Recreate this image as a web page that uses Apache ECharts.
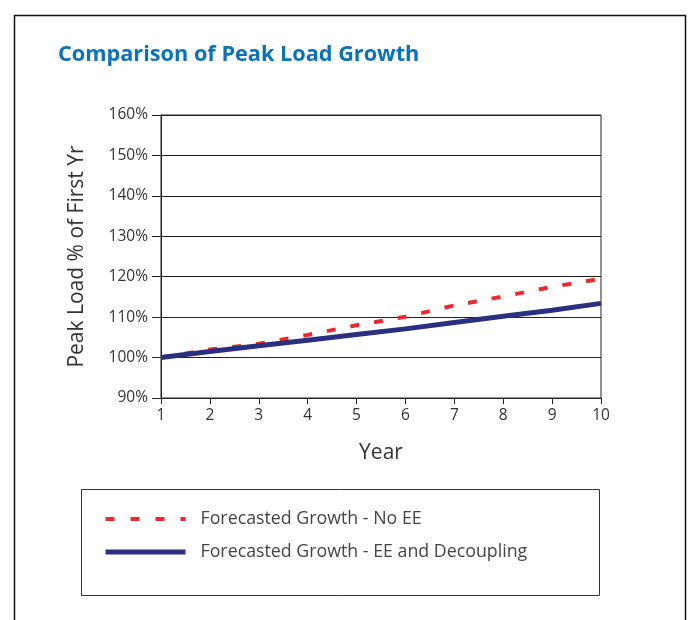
<!DOCTYPE html>
<html><head><meta charset="utf-8">
<script src="https://cdn.jsdelivr.net/npm/echarts@6/dist/echarts.min.js"></script>
<style>html,body{margin:0;padding:0;background:#fff}#c{width:688px;height:620px}</style>
</head><body><div id="c"></div>
<script>
const years = [1, 2, 3, 4, 5, 6, 7, 8, 9, 10];
const noEE = [100, 102, 103.4, 105.6, 108, 110.1, 112.9, 115.1, 117.5, 119.5];
const eeDecoupling = [100, 101.5, 102.9, 104.3, 105.7, 107.1, 108.7, 110.2, 111.7, 113.4];
const seriesNames = ['Forecasted Growth - No EE', 'Forecasted Growth - EE and Decoupling'];
const titleText = 'Comparison of Peak Load Growth';
const yName = 'Peak Load % of First Yr';
const xName = 'Year';

const FONT = '"Open Sans", "Noto Sans", sans-serif';
const RED = '#ec2a2e', BLUE = '#2b2f80';
const chart = echarts.init(document.getElementById('c'), null, {renderer: 'canvas'});
chart.setOption({
  animation: false,
  backgroundColor: '#fff',
  title: {
    text: titleText, left: 53, top: 39,
    textStyle: {color: '#0a72b8', fontSize: 21.7, fontWeight: 'bold', fontFamily: FONT}
  },
  graphic: [
    {type: 'rect', shape: {x: 14.5, y: 15.5, width: 671, height: 640}, style: {fill: null, stroke: '#111', lineWidth: 1.5}, silent: true},
    {type: 'rect', shape: {x: 81.5, y: 489.5, width: 518, height: 106}, style: {fill: null, stroke: '#333', lineWidth: 1}, silent: true}
  ],
  legend: {
    orient: 'vertical', left: 98, top: 505, itemWidth: 80, itemHeight: 14, itemGap: 15,
    data: [
      {name: seriesNames[0], lineStyle: {width: 4, color: RED, type: [9, 16]}},
      {name: seriesNames[1], lineStyle: {width: 5, color: BLUE}}
    ],
    itemStyle: {color: 'transparent', borderWidth: 0, opacity: 0},
    textStyle: {fontSize: 17.8, color: '#444', fontFamily: FONT, padding: [0, 0, 0, 10]}
  },
  grid: {left: 161, right: 87, top: 115, bottom: 222, show: true, borderColor: '#222', borderWidth: 1},
  xAxis: {
    type: 'value', min: 1, max: 10, interval: 1,
    name: xName, nameLocation: 'middle', nameGap: 45,
    nameTextStyle: {fontSize: 21, color: '#333', fontFamily: FONT},
    axisLine: {lineStyle: {color: '#222'}},
    axisTick: {show: true, length: 6, lineStyle: {color: '#222'}},
    axisLabel: {fontSize: 15.5, color: '#333', margin: 10, fontFamily: FONT},
    splitLine: {show: false}
  },
  yAxis: {
    type: 'value', min: 90, max: 160, interval: 10,
    name: yName, nameLocation: 'middle', nameGap: 73, nameRotate: 90,
    nameTextStyle: {fontSize: 21, color: '#333', fontFamily: FONT},
    axisLine: {show: true, lineStyle: {color: '#222'}},
    axisTick: {show: true, length: 9, lineStyle: {color: '#222'}},
    axisLabel: {fontSize: 15.5, color: '#333', margin: 13, fontFamily: FONT, formatter: v => v + '%'},
    splitLine: {show: true, lineStyle: {color: '#222', width: 1}}
  },
  series: [
    {name: seriesNames[0], type: 'line', symbol: 'none', z: 3,
     data: years.map((y, i) => [y, noEE[i]]),
     lineStyle: {color: RED, width: 4, type: [9, 15]}, itemStyle: {color: RED}},
    {name: seriesNames[1], type: 'line', symbol: 'none', z: 4,
     data: years.map((y, i) => [y, eeDecoupling[i]]),
     lineStyle: {color: BLUE, width: 5}, itemStyle: {color: BLUE}}
  ]
});
</script></body></html>
